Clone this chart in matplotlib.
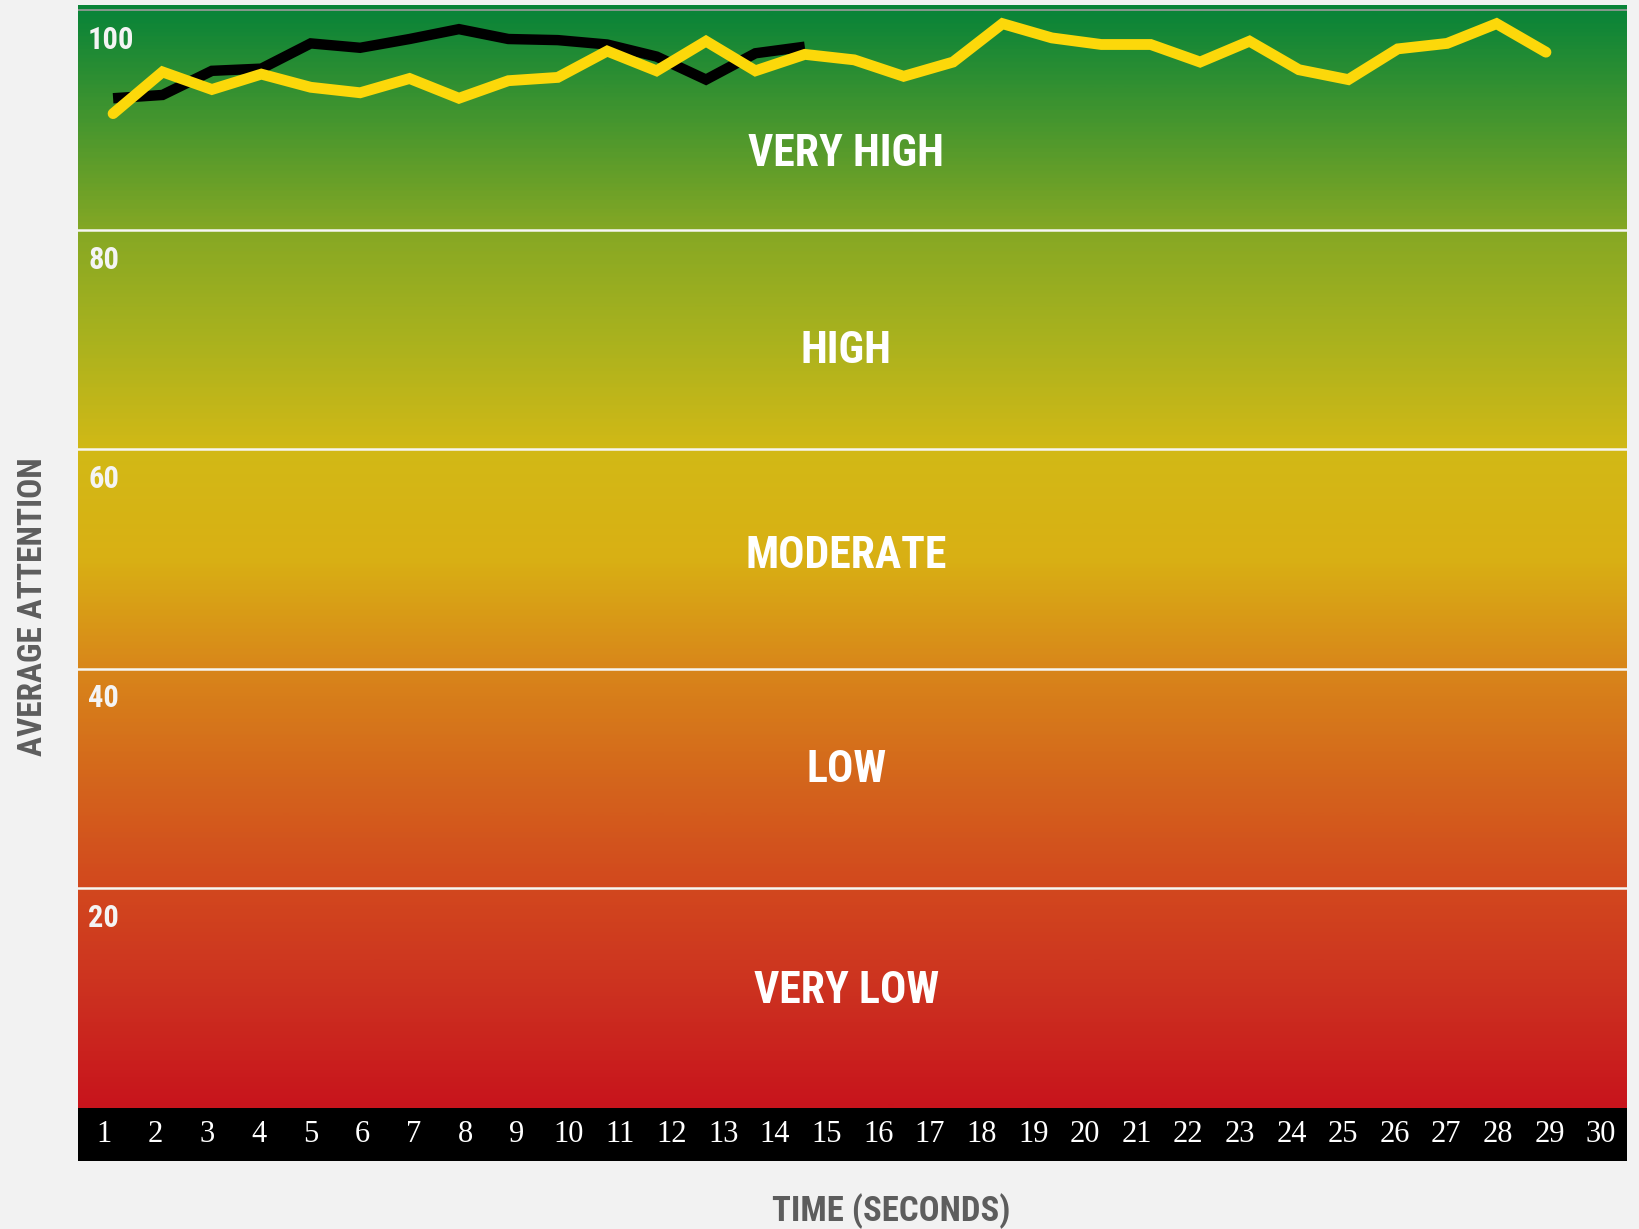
import numpy as np
import matplotlib
matplotlib.use("Agg")
import matplotlib.pyplot as plt
from matplotlib import font_manager
from matplotlib.colors import LinearSegmentedColormap, Normalize

# data
seconds = list(range(1, 31))
yellow_attention = [90.6, 94.4, 92.8, 94.2, 93.0, 92.5, 93.8, 92.0, 93.6, 93.9,
                    96.3, 94.5, 97.2, 94.5, 96.0, 95.5, 94.0, 95.3, 98.8, 97.5,
                    96.9, 96.9, 95.3, 97.2, 94.6, 93.7, 96.5, 97.0, 98.8, 96.2]
black_seconds = list(range(1, 16))
black_attention = [92.0, 92.3, 94.5, 94.7, 97.0, 96.6, 97.4, 98.3, 97.4, 97.3,
                   96.9, 95.8, 93.7, 96.1, 96.7]

band_names = ["VERY HIGH", "HIGH", "MODERATE", "LOW", "VERY LOW"]
band_label_y = [86.9, 69.0, 50.3, 30.8, 10.6]
grid_levels = [20, 40, 60, 80]
ytick_values = [100, 80, 60, 40, 20]

# background gradient stops (attention level -> colour)
grad_levels = [0, 10, 20, 30, 40, 50, 60, 70, 80, 90, 100]
grad_colors = ['#c8141c', '#cc3020', '#d2481e', '#d4661c', '#d8861a', '#d9b014',
               '#d2b916', '#aab21e', '#86a824', '#46962e', '#0a8438']


def pick(*names):
    have = {f.name for f in font_manager.fontManager.ttflist}
    for n in names:
        if n in have:
            return n
    return 'DejaVu Sans'


cond = pick('Roboto Condensed', 'Liberation Sans Narrow', 'Open Sans Condensed', 'DejaVu Sans')
serif = pick('Liberation Serif', 'DejaVu Serif')

W, H = 1640, 1229
fig = plt.figure(figsize=(W / 100, H / 100), dpi=100, facecolor='#f2f2f2')

# main plotting area
left, right = 78, 1627
top, zero_y = 5, 1107.6
ax = fig.add_axes([left / W, 1 - zero_y / H, (right - left) / W, (zero_y - top) / H])
xmin, xmax = 0.29, 31.64
ax.set_xlim(xmin, xmax)
ax.set_ylim(0, 100.5)
ax.axis('off')

cmap = LinearSegmentedColormap.from_list(
    'attn', [(l / 100, c) for l, c in zip(grad_levels, grad_colors)])
grad = np.linspace(0, 100.5, 600).reshape(-1, 1)
ax.imshow(grad, extent=(xmin, xmax, 0, 100.5), aspect='auto', origin='lower',
          cmap=cmap, norm=Normalize(0, 100), zorder=0)

for g in grid_levels:
    ax.axhline(g, color='#f6f6f2', lw=1.8, zorder=1)
ax.axhline(100, color='#9c9c9c', lw=1.2, zorder=1)

for v in ytick_values:
    ax.text(0.0065, v - 2.7, str(v), transform=ax.get_yaxis_transform(),
            ha='left', va='center', color='#f4f4f4', fontsize=22,
            family=cond, fontstretch='condensed', fontweight='bold', zorder=2)

for name, y in zip(band_names, band_label_y):
    ax.text(0.496, y, name, transform=ax.get_yaxis_transform(),
            ha='center', va='center', color='white', fontsize=31.5,
            family=cond, fontstretch='condensed', fontweight='bold', zorder=2)

ax.plot(black_seconds, black_attention, color='black', lw=7.5,
        solid_capstyle='butt', solid_joinstyle='miter', zorder=3)
ax.plot(seconds, yellow_attention, color='#fcd80a', lw=7.8,
        solid_capstyle='round', solid_joinstyle='miter', zorder=4)

# black time strip
band = fig.add_axes([left / W, 1 - 1161 / H, (right - left) / W, (1161 - zero_y) / H])
band.set_facecolor('black')
band.set_xlim(0.5, 30.5)
band.set_ylim(0, 1)
band.set_xticks([])
band.set_yticks([])
for s in band.spines.values():
    s.set_visible(False)
for s in seconds:
    band.text(s, 0.5, str(s), ha='center', va='center', color='white',
              fontsize=22, family=serif)

fig.text(33.5 / W, 1 - 607 / H, 'AVERAGE ATTENTION', rotation=90,
         ha='center', va='center', color='#5d5d5d', fontsize=24,
         family=cond, fontstretch='condensed', fontweight='bold')
fig.text(891 / W, 1 - 1211 / H, 'TIME (SECONDS)', ha='center', va='center',
         color='#5d5d5d', fontsize=25, family=cond, fontstretch='condensed',
         fontweight='bold')

fig.savefig('out.png', dpi=100, facecolor=fig.get_facecolor())
